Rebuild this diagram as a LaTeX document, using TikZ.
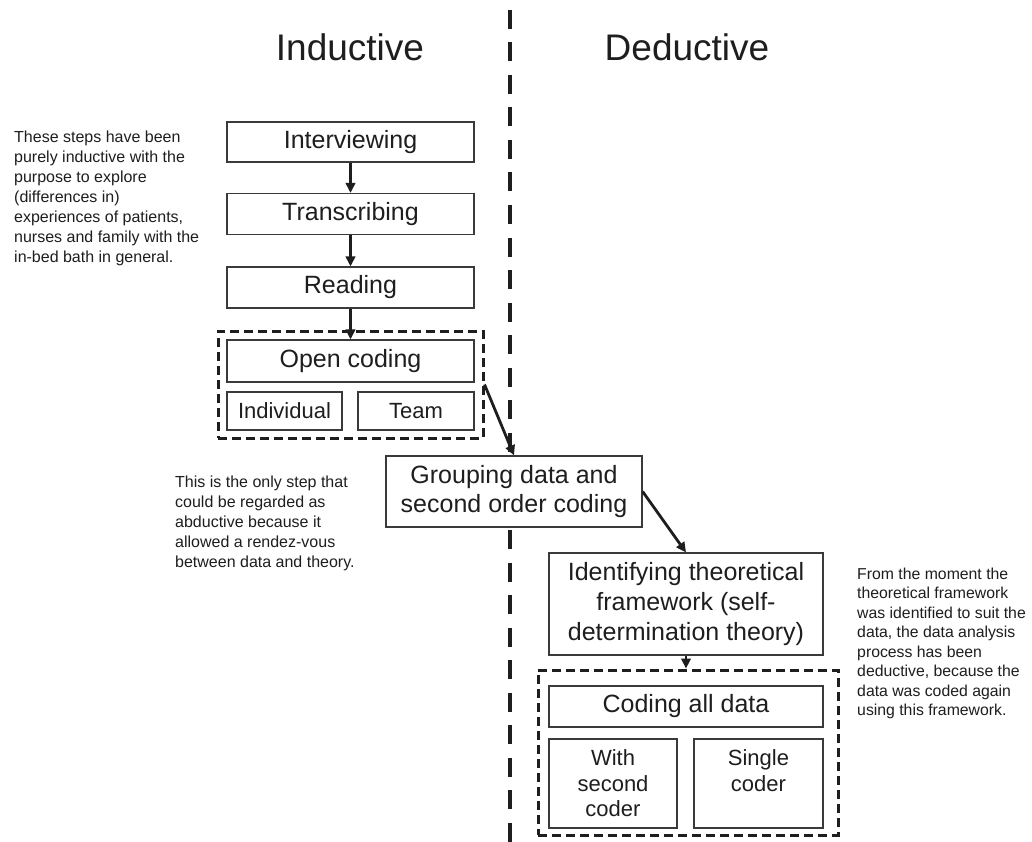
\documentclass[tikz,border=0pt]{standalone}
\usepackage{fontspec}
\setmainfont{Liberation Sans}
\usetikzlibrary{arrows.meta,calc}
\definecolor{ink}{HTML}{1E1E1E}
\definecolor{boxline}{HTML}{3A3A3A}
\begin{document}
\begin{tikzpicture}[x=1pt,y=-1pt,
  stepbox/.style={draw=boxline, fill=white, line width=1.2pt, inner sep=0pt, align=center, text=ink, font=\fontsize{25}{29}\selectfont},
  subbox/.style={draw=boxline, fill=white, line width=1.2pt, inner sep=0pt, align=center, text=ink, font=\fontsize{22}{25.5}\selectfont},
  grpbox/.style={draw=ink, line width=3pt, dash pattern=on 9pt off 5pt, inner sep=0pt},
  arr/.style={draw=ink, line width=2.8pt, -{Triangle[length=10pt,width=9.5pt]}},
  note/.style={align=left, inner sep=0pt, text=ink, font=\fontsize{16}{20}\selectfont, anchor=north west},
  titletext/.style={text=ink, font=\fontsize{37}{44}\selectfont}
]
\useasboundingbox (0,0) rectangle (1032,842);
\fill[white] (0,0) rectangle (1032,842);

% vertical divider
\coordinate (dtop) at (510,10);
\coordinate (dbot) at (510,842);
\draw[ink, line width=4.5pt, dash pattern=on 19pt off 13.5pt] (dtop) -- (dbot);

% titles
\node[titletext] (ind) at (350,47) {Inductive};
\node[titletext] (ded) at (687,47) {Deductive};

% inductive steps
\node[stepbox, minimum width=247pt, minimum height=40pt] (interview) at (350.5,142) {Interviewing};
\node[stepbox, minimum width=247pt, minimum height=41pt] (transcribe) at (350.5,214) {Transcribing};
\node[stepbox, minimum width=247pt, minimum height=41pt] (reading) at (350.5,287.5) {Reading};

\node[grpbox, minimum width=265pt, minimum height=107pt] (grp1) at (350.5,384.5) {};
\node[stepbox, minimum width=247pt, minimum height=42pt] (opencoding) at (350.5,361) {Open coding};
\node[subbox, minimum width=115pt, minimum height=38pt] (individual) at (284.5,411) {Individual};
\node[subbox, minimum width=116pt, minimum height=38pt] (team) at (416,411) {Team};

% abductive step
\node[stepbox, minimum width=256pt, minimum height=71pt] (grouping) at (514,491.5) {Grouping data and\\second order coding};

% deductive steps
\node[stepbox, font=\fontsize{25}{30}\selectfont, minimum width=274pt, minimum height=102pt] (identifying) at (686,604) {Identifying theoretical\\framework (self-\\determination theory)};

\node[grpbox, minimum width=300pt, minimum height=165pt] (grp2) at (688,752.5) {};
\node[stepbox, minimum width=274pt, minimum height=41pt] (codingall) at (686,706.5) {Coding all data};
\node[subbox, minimum width=128pt, minimum height=89pt] (withsecond) at (613,783.5) {With\\second\\coder};
\node[subbox, minimum width=129pt, minimum height=89pt] (single) at (758.5,783.5) {Single\\coder\\\phantom{x}};

% arrows
\draw[arr] (interview.south) -- (transcribe.north);
\draw[arr] (transcribe.south) -- (reading.north);
\draw[arr] (reading.south) -- (opencoding.north);
\draw[arr] (grp1.east) -- (grouping.north);
\draw[arr] (grouping.east) -- (identifying.north);
\draw[arr] (identifying.south) -- (identifying.south |- grp2.north);

% notes
\node[note] (noteleft) at (14,130.5) {These steps have been\\purely inductive with the\\purpose to explore\\(differences in)\\experiences of patients,\\nurses and family with the\\in-bed bath in general.};
\node[note] (notemid) at (175,475.5) {This is the only step that\\could be regarded as\\abductive because it\\allowed a rendez-vous\\between data and theory.};
\node[note, font=\fontsize{15.8}{19.5}\selectfont] (noteright) at (857,567.5) {From the moment the\\theoretical framework\\was identified to suit the\\data, the data analysis\\process has been\\deductive, because the\\data was coded again\\using this framework.};
\end{tikzpicture}
\end{document}
